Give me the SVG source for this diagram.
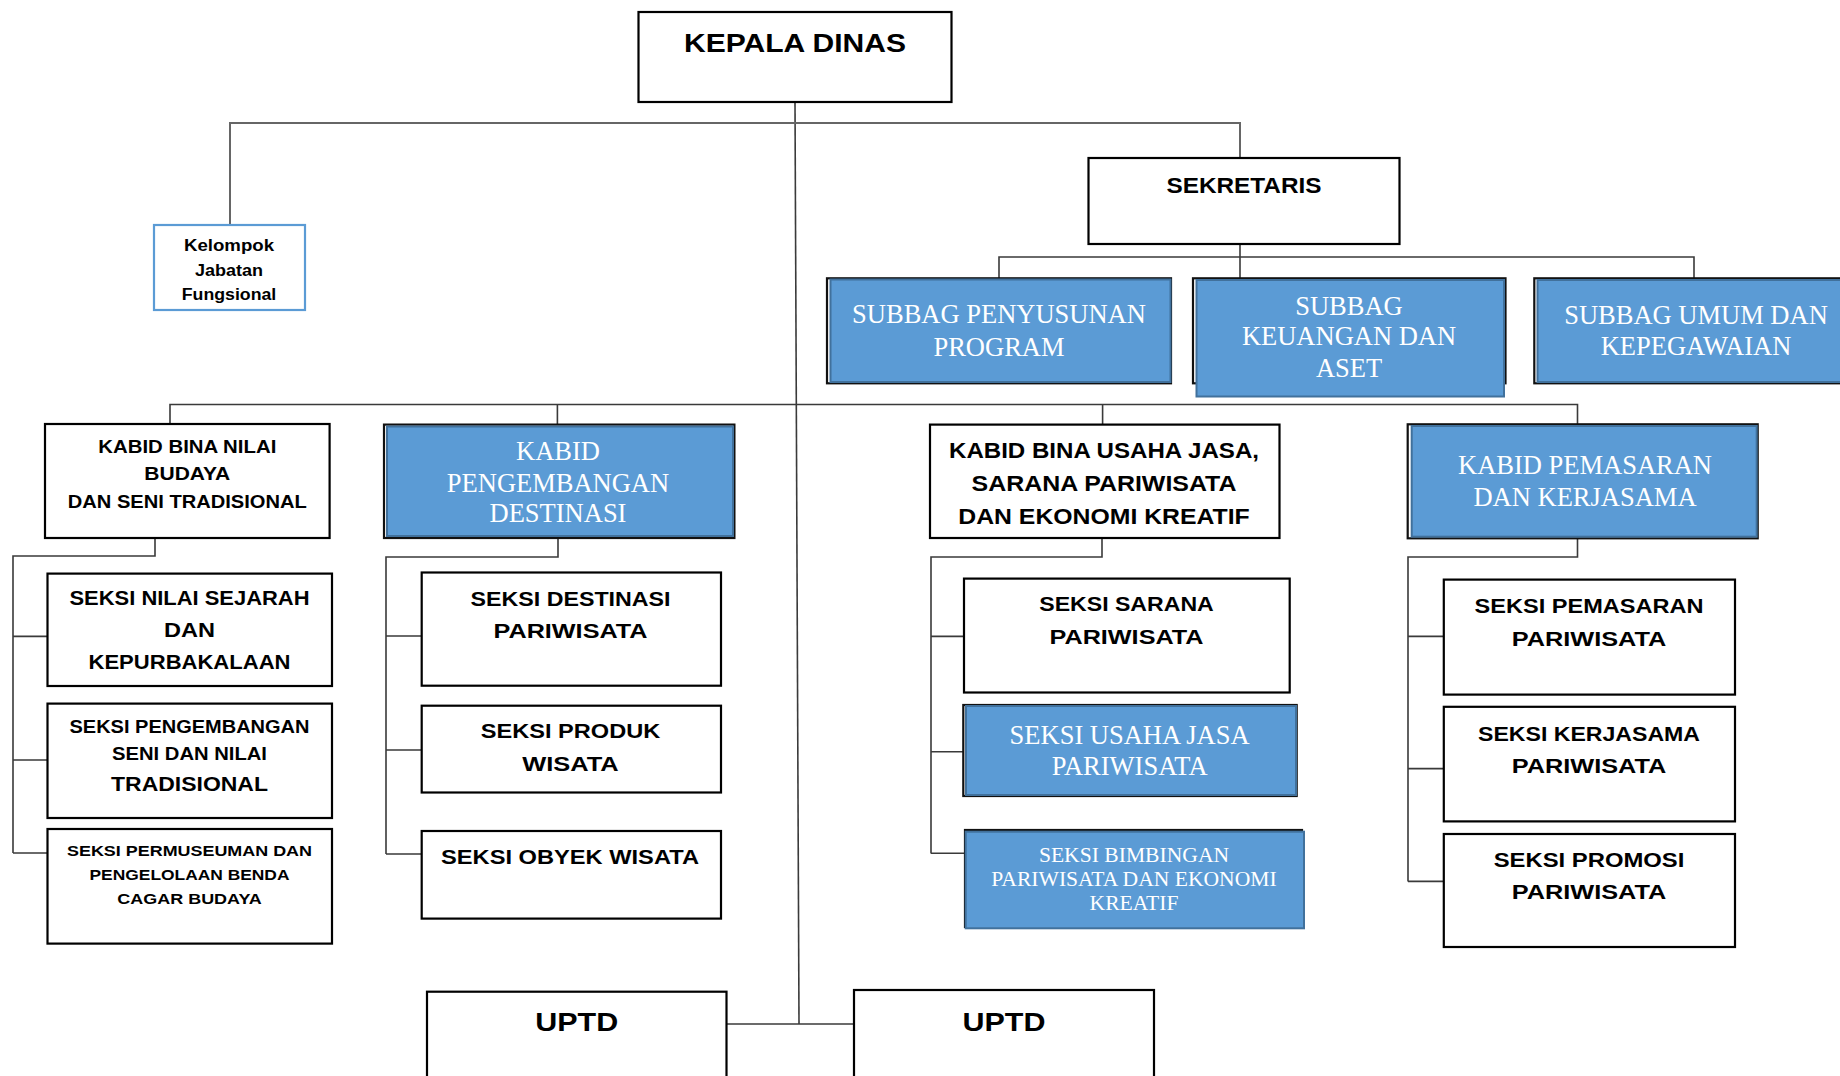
<svg xmlns="http://www.w3.org/2000/svg" width="1840" height="1076" viewBox="0 0 1840 1076">
<style>
.bx{fill:#fff;stroke:#000;stroke-width:2.2}
.fr{fill:#fff;stroke:#111;stroke-width:2.2}
.bl{fill:#5B9BD5;stroke:#41719C;stroke-width:2}
.kj{fill:#fff;stroke:#5B9BD5;stroke-width:2.2}
.sb{font-family:"Liberation Sans",Arial,sans-serif;font-weight:bold;fill:#000;text-anchor:middle}
.sf{font-family:"Liberation Serif","Times New Roman",serif;fill:#fff;text-anchor:middle;font-size:26.5px}
.sm{font-size:21.6px}
.cn{fill:none;stroke:#3a3a3a;stroke-width:1.6}
.cn2{fill:none;stroke:#666;stroke-width:2}
</style>
<rect width="1840" height="1076" fill="#fff"/>
<g id="connectors">
<path class="cn" d="M795,102 L799,1024"/>
<path class="cn2" d="M230,225 V123 H1240 V158"/>
<path class="cn" d="M1240,244 V278 M999,278 V257 H1694 V278"/>
<path class="cn" d="M170,424 V404.5 H1577.5 V424.5 M557.4,404.5 V424.6 M1102.6,404.5 V424.6"/>
<path class="cn" d="M155,538 V556 H13 V853 M13,636.4 H47.5 M13,760 H47.5 M13,853 H47.5"/>
<path class="cn" d="M558,538 V557 H386 V854 M386,636 H421.7 M386,750 H421.7 M386,854 H421.7"/>
<path class="cn" d="M1102,538 V557 H931 V853.6 M931,636.4 H964 M931,751.7 H963.3 M931,853.3 H965"/>
<path class="cn" d="M1577.5,538 V557 H1408 V881.4 M1408,636.4 H1443.8 M1408,768.6 H1443.8 M1408,881.4 H1443.8"/>
<path class="cn" d="M726.5,1024 H854"/>
</g>
<g id="kepala-dinas">
<rect class="bx" x="638.5" y="12" width="313" height="90"/>
<text class="sb" x="795" y="52" font-size="25.5" textLength="222" lengthAdjust="spacingAndGlyphs">KEPALA DINAS</text>
</g>
<g id="kelompok">
<rect class="kj" x="154" y="225" width="151" height="85"/>
<text class="sb" x="229" y="251" font-size="16" textLength="90" lengthAdjust="spacingAndGlyphs">Kelompok</text>
<text class="sb" x="229" y="276" font-size="16" textLength="68" lengthAdjust="spacingAndGlyphs">Jabatan</text>
<text class="sb" x="229" y="300" font-size="16" textLength="94.5" lengthAdjust="spacingAndGlyphs">Fungsional</text>
</g>
<g id="sekretaris">
<rect class="bx" x="1088.5" y="158" width="311" height="86"/>
<text class="sb" x="1244" y="193" font-size="22" textLength="155" lengthAdjust="spacingAndGlyphs">SEKRETARIS</text>
</g>
<g id="subbag-penyusunan">
<rect class="fr" x="827" y="278.3" width="344" height="105"/>
<rect class="bl" x="830.5" y="279.5" width="340" height="102.5"/>
<text class="sf" x="999" y="323">SUBBAG PENYUSUNAN</text>
<text class="sf" x="999" y="356">PROGRAM</text>
</g>
<g id="subbag-keuangan">
<rect class="fr" x="1193" y="278.3" width="312.5" height="105"/>
<rect class="bl" x="1196.5" y="280" width="307.5" height="116.5"/>
<text class="sf" x="1349" y="315">SUBBAG</text>
<text class="sf" x="1349" y="345">KEUANGAN DAN</text>
<text class="sf" x="1349" y="377">ASET</text>
</g>
<g id="subbag-umum">
<rect class="fr" x="1534.3" y="278.3" width="320" height="105"/>
<rect class="bl" x="1537.5" y="280" width="320" height="102"/>
<text class="sf" x="1696" y="324">SUBBAG UMUM DAN</text>
<text class="sf" x="1696" y="355">KEPEGAWAIAN</text>
</g>
<g id="kabid-bina-nilai">
<rect class="bx" x="45" y="424" width="284.6" height="114"/>
<text class="sb" x="187.3" y="453" font-size="18.5" textLength="178" lengthAdjust="spacingAndGlyphs">KABID BINA NILAI</text>
<text class="sb" x="187.3" y="480" font-size="18.5" textLength="86" lengthAdjust="spacingAndGlyphs">BUDAYA</text>
<text class="sb" x="187.3" y="508" font-size="18.5" textLength="239" lengthAdjust="spacingAndGlyphs">DAN SENI TRADISIONAL</text>
</g>
<g id="kabid-pengembangan">
<rect class="fr" x="384" y="424.6" width="350.4" height="113.4"/>
<rect class="bl" x="387" y="426.5" width="346" height="109.5"/>
<text class="sf" x="558" y="460">KABID</text>
<text class="sf" x="558" y="492">PENGEMBANGAN</text>
<text class="sf" x="558" y="522">DESTINASI</text>
</g>
<g id="kabid-bina-usaha">
<rect class="bx" x="930" y="424.6" width="349.5" height="113.4"/>
<text class="sb" x="1104" y="458" font-size="22" textLength="310" lengthAdjust="spacingAndGlyphs">KABID BINA USAHA JASA,</text>
<text class="sb" x="1104" y="491" font-size="22" textLength="265" lengthAdjust="spacingAndGlyphs">SARANA PARIWISATA</text>
<text class="sb" x="1104" y="524" font-size="22" textLength="291.5" lengthAdjust="spacingAndGlyphs">DAN EKONOMI KREATIF</text>
</g>
<g id="kabid-pemasaran">
<rect class="fr" x="1407.7" y="424.3" width="350" height="114"/>
<rect class="bl" x="1411.7" y="426" width="345" height="110.7"/>
<text class="sf" x="1585" y="474">KABID PEMASARAN</text>
<text class="sf" x="1585" y="506">DAN KERJASAMA</text>
</g>
<g id="seksi-nilai-sejarah">
<rect class="bx" x="47.5" y="573.6" width="284.5" height="112.4"/>
<text class="sb" x="189.5" y="605" font-size="20" textLength="240" lengthAdjust="spacingAndGlyphs">SEKSI NILAI SEJARAH</text>
<text class="sb" x="189.5" y="637" font-size="20" textLength="51" lengthAdjust="spacingAndGlyphs">DAN</text>
<text class="sb" x="189.5" y="668.6" font-size="20" textLength="202" lengthAdjust="spacingAndGlyphs">KEPURBAKALAAN</text>
</g>
<g id="seksi-pengembangan-seni">
<rect class="bx" x="47.5" y="703.6" width="284.5" height="114.4"/>
<text class="sb" x="189.5" y="733" font-size="17.5" textLength="240" lengthAdjust="spacingAndGlyphs">SEKSI PENGEMBANGAN</text>
<text class="sb" x="189.5" y="760" font-size="17.5" textLength="155" lengthAdjust="spacingAndGlyphs">SENI DAN NILAI</text>
<text class="sb" x="189.5" y="790.7" font-size="21" textLength="157" lengthAdjust="spacingAndGlyphs">TRADISIONAL</text>
</g>
<g id="seksi-permuseuman">
<rect class="bx" x="47.5" y="829" width="284.5" height="114.6"/>
<text class="sb" x="189.5" y="856" font-size="15.5" textLength="245" lengthAdjust="spacingAndGlyphs">SEKSI PERMUSEUMAN DAN</text>
<text class="sb" x="189.5" y="880" font-size="15.5" textLength="200" lengthAdjust="spacingAndGlyphs">PENGELOLAAN BENDA</text>
<text class="sb" x="189.5" y="904" font-size="15.5" textLength="144.5" lengthAdjust="spacingAndGlyphs">CAGAR BUDAYA</text>
</g>
<g id="seksi-destinasi">
<rect class="bx" x="421.7" y="572.5" width="299.3" height="113.2"/>
<text class="sb" x="570.5" y="606" font-size="21" textLength="200" lengthAdjust="spacingAndGlyphs">SEKSI DESTINASI</text>
<text class="sb" x="570.5" y="638" font-size="21" textLength="154" lengthAdjust="spacingAndGlyphs">PARIWISATA</text>
</g>
<g id="seksi-produk">
<rect class="bx" x="421.7" y="705.7" width="299.3" height="86.8"/>
<text class="sb" x="570.5" y="738" font-size="21" textLength="179.4" lengthAdjust="spacingAndGlyphs">SEKSI PRODUK</text>
<text class="sb" x="570.5" y="771" font-size="21" textLength="96.5" lengthAdjust="spacingAndGlyphs">WISATA</text>
</g>
<g id="seksi-obyek">
<rect class="bx" x="421.7" y="831" width="299.3" height="87.6"/>
<text class="sb" x="570" y="864" font-size="21" textLength="258" lengthAdjust="spacingAndGlyphs">SEKSI OBYEK WISATA</text>
</g>
<g id="seksi-sarana">
<rect class="bx" x="964" y="578.6" width="325.7" height="113.9"/>
<text class="sb" x="1126.5" y="611.4" font-size="21" textLength="174.5" lengthAdjust="spacingAndGlyphs">SEKSI SARANA</text>
<text class="sb" x="1126.5" y="644" font-size="21" textLength="154" lengthAdjust="spacingAndGlyphs">PARIWISATA</text>
</g>
<g id="seksi-usaha-jasa">
<rect class="fr" x="963.3" y="705" width="333.4" height="91"/>
<rect class="bl" x="966" y="706" width="330" height="89"/>
<text class="sf" x="1129.6" y="743.6">SEKSI USAHA JASA</text>
<text class="sf" x="1129.6" y="774.6">PARIWISATA</text>
</g>
<g id="seksi-bimbingan">
<rect class="fr" x="965" y="830" width="337" height="97"/>
<rect class="bl" x="965.7" y="831.7" width="338.3" height="96.6"/>
<text class="sf sm" x="1134" y="861.7">SEKSI BIMBINGAN</text>
<text class="sf sm" x="1134" y="885.5">PARIWISATA DAN EKONOMI</text>
<text class="sf sm" x="1134" y="910">KREATIF</text>
</g>
<g id="seksi-pemasaran">
<rect class="bx" x="1443.8" y="579.6" width="291.2" height="115"/>
<text class="sb" x="1589" y="613" font-size="21" textLength="229" lengthAdjust="spacingAndGlyphs">SEKSI PEMASARAN</text>
<text class="sb" x="1589" y="646" font-size="21" textLength="154.7" lengthAdjust="spacingAndGlyphs">PARIWISATA</text>
</g>
<g id="seksi-kerjasama">
<rect class="bx" x="1443.8" y="706.8" width="291.2" height="114.6"/>
<text class="sb" x="1589" y="741" font-size="21" textLength="222" lengthAdjust="spacingAndGlyphs">SEKSI KERJASAMA</text>
<text class="sb" x="1589" y="773" font-size="21" textLength="154.7" lengthAdjust="spacingAndGlyphs">PARIWISATA</text>
</g>
<g id="seksi-promosi">
<rect class="bx" x="1443.8" y="834" width="291.2" height="113"/>
<text class="sb" x="1589" y="866.8" font-size="21" textLength="190.6" lengthAdjust="spacingAndGlyphs">SEKSI PROMOSI</text>
<text class="sb" x="1589" y="899" font-size="21" textLength="154.7" lengthAdjust="spacingAndGlyphs">PARIWISATA</text>
</g>
<g id="uptd-1">
<rect class="bx" x="427" y="991.7" width="299.5" height="100"/>
<text class="sb" x="576.7" y="1030.7" font-size="26.5" textLength="83" lengthAdjust="spacingAndGlyphs">UPTD</text>
</g>
<g id="uptd-2">
<rect class="bx" x="854" y="990" width="300" height="100"/>
<text class="sb" x="1004" y="1030.7" font-size="26.5" textLength="83" lengthAdjust="spacingAndGlyphs">UPTD</text>
</g>
</svg>
